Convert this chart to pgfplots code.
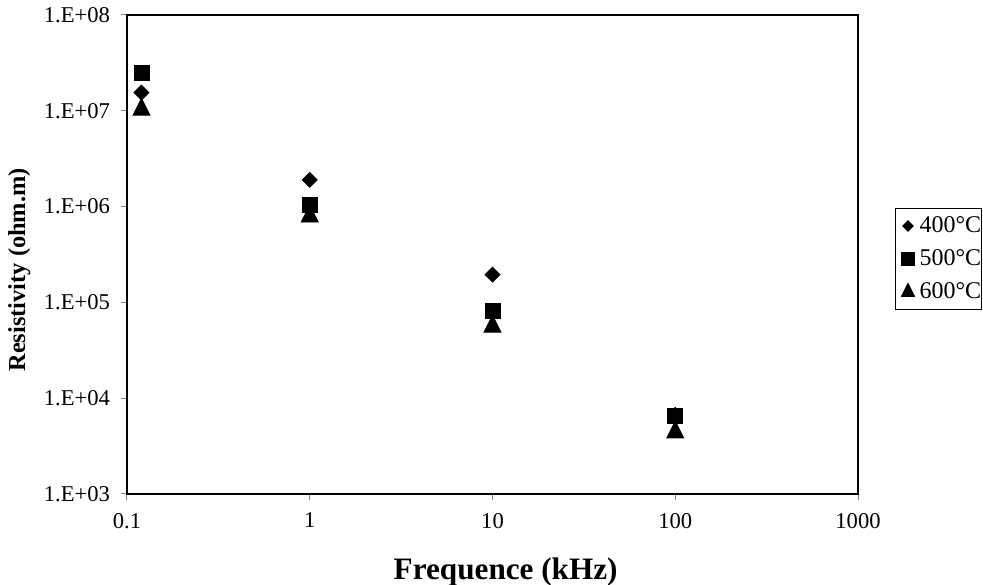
\documentclass[border=0pt]{standalone}
\usepackage{pgfplots}
\pgfplotsset{compat=1.18}
\usepackage{fontspec}
\setmainfont{Liberation Serif}
\begin{document}
\begin{tikzpicture}
\begin{axis}[
  at={(0,0)}, anchor=south west,
  scale only axis, width=365.5bp, height=239.5bp,
  xmode=log, ymode=log,
  xmin=0.1, xmax=1000, ymin=1e3, ymax=1e8,
  xtick={0.1,1,10,100,1000},
  xticklabels={0.1,1,10,100,1000},
  ytick={1e3,1e4,1e5,1e6,1e7,1e8},
  yticklabels={1.E+03,1.E+04,1.E+05,1.E+06,1.E+07,1.E+08},
  xminorticks=false, yminorticks=false,
  xtick pos=bottom, ytick pos=left,
  tick align=outside, major tick length=3bp,
  tick style={gray, line width=0.5bp},
  axis line style={line width=0.75bp},
  tick label style={font=\fontsize{11.3bp}{13bp}\selectfont},
  xticklabel style={yshift=-3bp},
  yticklabel style={xshift=-2bp},
  xlabel={Frequence (kHz)},
  ylabel={Resistivity (ohm.m)},
  xlabel style={font=\bfseries\fontsize{15.6bp}{18bp}\selectfont, at={(axis description cs:0.518,-0.1795)}, anchor=base},
  ylabel style={font=\bfseries\fontsize{12.2bp}{15bp}\selectfont, at={(axis description cs:-0.1395,0.468)}, anchor=base},
  legend style={at={(axis description cs:1.0506,0.597)}, anchor=north west,
    draw=black, line width=0.5bp, font=\fontsize{12bp}{15bp}\selectfont,
    inner xsep=0bp, inner ysep=0.5bp, row sep=0bp, column sep=0bp,
    nodes={inner xsep=0bp, inner ysep=2bp, text height=9.5bp, text depth=3bp}},
  legend cell align=left,
  legend image code/.code={\path (0bp,0bp) (11.5bp,0bp); \draw[#1] plot coordinates {(6bp,0bp)};},
  every even column/.style={column sep=0bp},
  every odd column/.style={column sep=1.5bp},
]
\addplot[only marks, mark=square*, mark size=2.65bp, mark options={rotate=45, fill=black, draw=black},
  legend image post style={mark size=1.8bp}]
  coordinates {(0.12,1.55e7) (1,1.9e6) (10,1.95e5) (100,6.7e3)};
\addlegendentry{400°C}
\addplot[only marks, mark=square*, mark size=3.75bp, mark options={fill=black, draw=black},
  legend image post style={mark size=3.2bp}]
  coordinates {(0.12,2.5e7) (1,1.04e6) (10,8.2e4) (100,6.6e3)};
\addlegendentry{500°C}
\addplot[only marks, mark=triangle*, mark size=4.9bp, mark options={yscale=1.15, fill=black, draw=black},
  legend image post style={mark size=3.7bp}]
  coordinates {(0.12,1.03e7) (1,7.9e5) (10,5.6e4) (100,4.4e3)};
\addlegendentry{600°C}
\end{axis}
\pgfresetboundingbox
\path[use as bounding box] (-63.5bp,-45.5bp) rectangle (428bp,247bp);
\end{tikzpicture}
\end{document}
